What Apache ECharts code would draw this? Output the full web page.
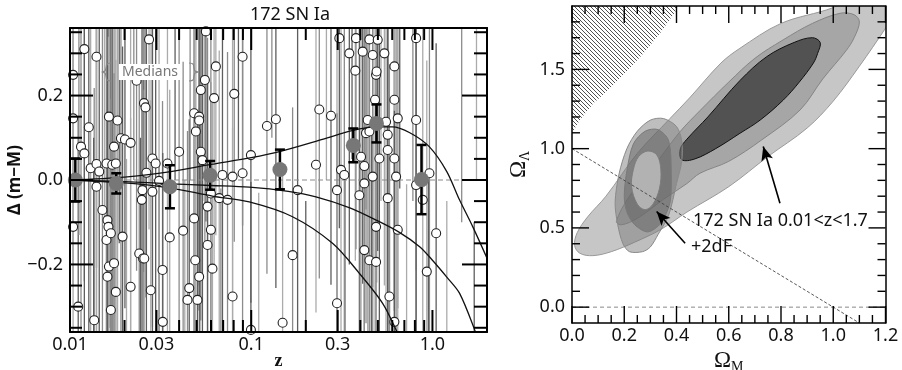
<!DOCTYPE html>
<html><head><meta charset="utf-8">
<script src="https://cdn.jsdelivr.net/npm/echarts@6/dist/echarts.min.js"></script>
<style>html,body{margin:0;padding:0;background:#fff}#c{width:902px;height:370px}</style>
</head><body><div id="c"></div>
<script>
// ---------------- DATA (left panel: 172 SN Ia residuals) ----------------
const snZ = [0.0120,0.0140,0.0273,0.0104,0.0127,0.0104,0.0115,0.0120,0.0130,0.0140,0.0164,0.0183,0.0159,0.0171,0.0179,0.0191,0.0201,0.0216,0.0175,0.0256,0.0261,0.0285,0.0297,0.0345,0.0400,0.0145,0.0140,0.0151,0.0161,0.0163,0.0159,0.0168,0.0164,0.0175,0.0161,0.0179,0.0168,0.0195,0.0216,0.0136,0.0111,0.0104,0.0241,0.0253,0.0257,0.0249,0.0285,0.0279,0.0324,0.0325,0.0355,0.0421,0.0484,0.0491,0.0445,0.0505,0.0516,0.0574,0.0574,0.0599,0.0599,0.0562,0.0638,0.0555,0.0527,0.0624,0.0806,0.0896,0.0484,0.0516,0.0516,0.0495,0.0527,0.0538,0.0666,0.0740,0.0694,0.0789,0.0896,0.0996,0.0789,0.1221,0.1368,0.1490,0.1692,0.1803,0.2277,0.2375,0.2755,0.2974,0.2974,0.3063,0.3129,0.3264,0.3478,0.3754,0.3786,0.4122,0.4488,0.4682,0.4989,0.5430,0.4885,0.4917,0.4823,0.4300,0.4488,0.4036,0.4209,0.3952,0.4209,0.4488,0.4885,0.4885,0.4682,0.5094,0.5546,0.5664,0.6166,0.6166,0.6435,0.5664,0.6166,0.6300,0.5664,0.6435,0.5786,0.6166,0.8125,0.8125,0.8125,0.8843,0.9625,1.048,0.9306,0.0233,0.0264,0.0310,0.0251,0.0455,0.0611,0.4209,0.0996,0.4392,
 0.0112,0.0135,0.0155,0.0172,0.0187,0.0205,0.0225,0.0245,0.0280,0.0310,0.0380,0.0430,0.0460,0.0520,0.0550,0.0680,0.0850,0.110,0.130,0.200,0.260,0.330,0.360,0.400,0.430,0.460,0.520,0.580,0.660,0.720,0.780,0.950,1.20,1.45,1.70,1.75];
const snDm = [0.310,0.292,0.333,0.249,0.125,0.146,0.079,0.063,0.028,0.038,0.150,0.141,0.039,0.036,0.039,0.099,0.096,0.088,0.079,0.182,0.172,0.051,0.039,0.039,0.067,0.020,-0.016,-0.071,-0.095,-0.111,-0.142,-0.126,-0.205,-0.197,-0.229,-0.265,-0.308,-0.134,-0.253,-0.332,-0.300,-0.111,-0.174,-0.186,-0.186,-0.047,-0.028,-0.261,-0.213,-0.336,-0.136,-0.120,-0.091,-0.190,-0.284,-0.284,-0.229,-0.063,-0.154,-0.118,-0.032,0.352,0.269,0.237,0.213,0.194,0.204,0.292,0.158,0.150,0.141,0.115,0.067,0.047,-0.043,-0.047,0.012,0.008,0.016,0.059,-0.276,0.128,0.144,-0.338,-0.178,-0.024,0.036,0.167,0.152,-0.024,-0.292,0.336,0.024,0.012,0.300,0.259,0.336,0.304,0.333,0.296,0.332,0.300,0.249,0.257,0.190,0.111,0.115,0.055,-0.008,-0.036,-0.166,-0.190,-0.194,-0.111,0.008,0.051,0.138,0.107,0.190,0.269,0.146,0.071,0.051,0.008,-0.043,-0.118,-0.276,-0.336,0.336,0.142,-0.012,-0.047,0.016,-0.126,-0.217,0.235,0.017,-0.002,-0.024,-0.256,-0.210,0.033,-0.355,0.142,
 0.42,-0.45,0.50,-0.42,0.40,-0.50,0.45,-0.40,0.42,-0.45,0.40,-0.50,0.45,-0.40,0.50,-0.42,0.45,-0.48,0.50,-0.45,0.45,-0.50,0.50,-0.45,0.48,-0.42,0.45,-0.50,0.48,-0.46,0.50,-0.50,-0.50,0.45,-0.55,0.50];
const snErr = [0.55,0.50,0.45,0.50,0.55,0.40,0.45,0.50,0.40,0.45,0.50,0.55,0.50,0.55,0.45,0.50,0.40,0.45,0.50,0.40,0.45,0.40,0.45,0.40,0.40,0.50,0.50,0.55,0.50,0.45,0.50,0.55,0.50,0.45,0.50,0.55,0.50,0.45,0.40,0.55,0.45,0.45,0.40,0.45,0.40,0.45,0.40,0.45,0.40,0.40,0.35,0.40,0.45,0.40,0.40,0.45,0.40,0.40,0.40,0.35,0.40,0.45,0.40,0.40,0.45,0.40,0.35,0.40,0.45,0.40,0.45,0.40,0.40,0.45,0.35,0.35,0.40,0.35,0.40,0.35,0.40,0.35,0.40,0.35,0.35,0.40,0.35,0.40,0.40,0.45,0.45,0.45,0.40,0.45,0.50,0.45,0.50,0.55,0.50,0.55,0.50,0.55,0.45,0.50,0.55,0.45,0.50,0.45,0.50,0.45,0.50,0.55,0.45,0.50,0.45,0.50,0.55,0.45,0.50,0.55,0.45,0.50,0.55,0.50,0.45,0.50,0.55,0.50,0.55,0.50,0.55,0.50,0.55,0.45,0.50,0.45,0.40,0.40,0.45,0.40,0.40,0.50,0.35,0.50,
 0.55,0.55,0.60,0.50,0.55,0.55,0.45,0.50,0.45,0.50,0.40,0.50,0.45,0.55,0.55,0.40,0.40,0.45,0.40,0.40,0.45,0.50,0.45,0.50,0.55,0.55,0.50,0.55,0.50,0.45,0.55,0.50,0.45,0.55,0.45,0.50];

const medZ   = [0.0107, 0.018, 0.0356, 0.0593, 0.144, 0.366, 0.491, 0.87];
const medDm  = [0.000, -0.008, -0.016, 0.011, 0.025, 0.082, 0.134, 0.001];
const medErr = [0.051, 0.024, 0.051, 0.034, 0.047, 0.040, 0.045, 0.082];

const curveUpper  = [[0.01,0.0],[0.02,0.007],[0.036,0.02],[0.06,0.037],[0.1,0.053],[0.145,0.068],[0.25,0.097],[0.36,0.117],[0.48,0.126],[0.6,0.126],[0.75,0.112],[0.96,0.079],[1.2,0.02],[1.41,-0.047],[1.67,-0.111],[2.0,-0.185]];
const curveMiddle = [[0.01,0.0],[0.02,-0.004],[0.036,-0.009],[0.06,-0.013],[0.0975,-0.017],[0.16,-0.027],[0.2276,-0.04],[0.35,-0.066],[0.489,-0.095],[0.657,-0.124],[0.85,-0.158],[1.0,-0.19],[1.2,-0.23],[1.41,-0.268],[1.71,-0.355],[1.85,-0.40]];
const curveLower  = [[0.01,0.0],[0.02,-0.007],[0.036,-0.019],[0.061,-0.038],[0.0975,-0.052],[0.169,-0.087],[0.281,-0.15],[0.395,-0.221],[0.531,-0.292],[0.63,-0.355],[0.68,-0.39]];

const zTickValues = [0.01, 0.03, 0.1, 0.3, 1.0];
const zTickLabels = ['0.01', '0.03', '0.1', '0.3', '1.0'];
const zMinorTicks = [0.02,0.04,0.05,0.06,0.07,0.08,0.09,0.2,0.4,0.5,0.6,0.7,0.8,0.9];
const dmTickValues = [-0.2, 0.0, 0.2];
const dmTickLabels = ['\u22120.2', '0.0', '0.2'];
const dmMinorTicks = [-0.35,-0.3,-0.25,-0.15,-0.1,-0.05,0.05,0.1,0.15,0.25,0.3,0.35];

// ---------------- DATA (right panel: Omega_M / Omega_Lambda contours) ----------------
const noBigBang = [[0,1.10],[0,1.95],[0.40,1.95],[0.40,1.875],[0.337,1.728],[0.273,1.60],[0.209,1.486],[0.145,1.38],[0.082,1.286],[0.03,1.18],[0.011,1.128]];
const snContour3 = [[0.01,0.39],[0.03,0.34],[0.08,0.325],[0.15,0.35],[0.24,0.41],[0.34,0.49],[0.44,0.60],[0.6,0.76],[0.75,0.95],[0.9,1.13],[1.0,1.30],[1.1,1.52],[1.2,1.76],[1.26,1.92],[1.22,2.0],[1.1,1.98],[1.0,1.89],[0.8,1.79],[0.64,1.63],[0.57,1.54],[0.45,1.32],[0.375,1.19],[0.25,0.97],[0.13,0.70],[0.06,0.57],[0.02,0.47]];
const snContour2 = [[0.17,0.54],[0.22,0.70],[0.30,0.86],[0.41,1.10],[0.49,1.24],[0.6,1.42],[0.7,1.57],[0.808,1.686],[0.92,1.79],[1.026,1.854],[1.08,1.845],[1.1,1.80],[1.08,1.70],[1.05,1.62],[0.96,1.44],[0.873,1.244],[0.726,1.055],[0.6,0.92],[0.49,0.845],[0.44,0.78],[0.35,0.68],[0.25,0.56],[0.19,0.52]];
const snContour1 = [[0.42,0.93],[0.415,1.0],[0.44,1.06],[0.52,1.2],[0.643,1.43],[0.745,1.58],[0.85,1.67],[0.92,1.70],[0.95,1.67],[0.94,1.6],[0.924,1.54],[0.87,1.42],[0.809,1.307],[0.72,1.18],[0.643,1.097],[0.55,1.0],[0.47,0.935]];
const dfContour3 = [[0.165,0.66],[0.18,0.84],[0.21,1.0],[0.25,1.11],[0.30,1.18],[0.35,1.19],[0.40,1.14],[0.42,1.05],[0.42,0.92],[0.40,0.78],[0.37,0.58],[0.33,0.46],[0.30,0.38],[0.27,0.35],[0.22,0.35],[0.195,0.40],[0.175,0.52]];
const dfContour2 = [[0.20,0.70],[0.21,0.86],[0.235,1.03],[0.28,1.11],[0.33,1.12],[0.37,1.05],[0.38,0.85],[0.375,0.66],[0.34,0.53],[0.29,0.475],[0.24,0.52],[0.21,0.60]];
const dfContour1 = [[0.228,0.76],[0.235,0.87],[0.255,0.95],[0.29,0.985],[0.325,0.96],[0.34,0.87],[0.335,0.75],[0.31,0.65],[0.28,0.615],[0.25,0.65]];
const flatLine = [[0.0,1.0],[1.1,-0.1]];
const zeroLambda = [[0.0,0.0],[1.2,0.0]];
const arrowSN = [[0.796,0.656],[0.732,1.013]];
const arrow2dF = [[0.433,0.403],[0.324,0.603]];
const omTickValues = [0.0,0.2,0.4,0.6,0.8,1.0,1.2];
const omMinorTicks = [0.05,0.1,0.15,0.25,0.3,0.35,0.45,0.5,0.55,0.65,0.7,0.75,0.85,0.9,0.95,1.05,1.1,1.15];
const olTickValues = [0.0, 0.5, 1.0, 1.5];
const olMinorTicks = [0.1,0.2,0.3,0.4,0.6,0.7,0.8,0.9,1.1,1.2,1.3,1.4,1.6,1.7,1.8];

// ---------------- CHART ----------------
const SANS = '"Noto Sans", "DejaVu Sans", sans-serif';
const SERIF = '"Liberation Serif", "DejaVu Serif", serif';
const LMIN = Math.log10(0.01), LMAX = Math.log10(2.0);
const zMajorLog = zTickValues.map(Math.log10);

const hatch = document.createElement('canvas');
hatch.width = 4; hatch.height = 4;
(function(){
  const c = hatch.getContext('2d');
  c.fillStyle = '#ffffff'; c.fillRect(0,0,4,4);
  c.strokeStyle = '#505050'; c.lineWidth = 1;
  c.beginPath();
  c.moveTo(-1,-1); c.lineTo(5,5);
  c.moveTo(-1,3); c.lineTo(1,5);
  c.moveTo(3,-1); c.lineTo(5,1);
  c.stroke();
})();

const polygons = [
  {pts: noBigBang, fill: {image: hatch, repeat: 'repeat'}, stroke: null, smooth: 0},
  {pts: snContour3, fill: '#c6c6c6', stroke: '#9a9a9a', smooth: 0.35},
  {pts: snContour2, fill: '#a6a6a6', stroke: '#858585', smooth: 0.35},
  {pts: snContour1, fill: '#525252', stroke: '#111111', smooth: 0.35},
  {pts: dfContour3, fill: 'rgba(120,120,120,0.48)', stroke: '#8a8a8a', smooth: 0.3},
  {pts: dfContour2, fill: 'rgba(95,95,95,0.5)', stroke: '#7a7a7a', smooth: 0.3},
  {pts: dfContour1, fill: '#b2b2b2', stroke: '#7c7c7c', smooth: 0.35}
];

// tick specs (built from the tick arrays): lenA = bottom/left, lenB = top/right
const leftTicks = [].concat(
  zTickValues.map(v => ({dir: 'x', v, lenA: 22, lenB: 22})),
  zMinorTicks.map(v => ({dir: 'x', v, lenA: 12, lenB: 12})),
  dmTickValues.map(v => ({dir: 'y', v, lenA: 23, lenB: 25})),
  dmMinorTicks.map(v => ({dir: 'y', v, lenA: 12, lenB: 13}))
);
const rightTicks = [].concat(
  omTickValues.map(v => ({dir: 'x', v, lenA: 17, lenB: 17})),
  omMinorTicks.map(v => ({dir: 'x', v, lenA: 8, lenB: 8})),
  olTickValues.map(v => ({dir: 'y', v, lenA: 17, lenB: 17})),
  olMinorTicks.map(v => ({dir: 'y', v, lenA: 8, lenB: 8}))
);
function tickSeries(specs, xi, yi, xRef, yRef, width) {
  return {type: 'custom', xAxisIndex: xi, yAxisIndex: yi, z: 9, silent: true,
    data: specs.map(t => t.dir === 'x' ? [t.v, yRef] : [xRef, t.v]),
    encode: {x: 0, y: 1},
    renderItem: (params, api) => {
      const t = specs[params.dataIndex], cs = params.coordSys;
      const p = api.coord([api.value(0), api.value(1)]);
      const st = {stroke: '#000', lineWidth: width};
      if (t.dir === 'x') {
        const b = cs.y + cs.height;
        return {type: 'group', children: [
          {type: 'line', shape: {x1: p[0], y1: b, x2: p[0], y2: b - t.lenA}, style: st},
          {type: 'line', shape: {x1: p[0], y1: cs.y, x2: p[0], y2: cs.y + t.lenB}, style: st}]};
      }
      const r = cs.x + cs.width;
      return {type: 'group', children: [
        {type: 'line', shape: {x1: cs.x, y1: p[1], x2: cs.x + t.lenA, y2: p[1]}, style: st},
        {type: 'line', shape: {x1: r, y1: p[1], x2: r - t.lenB, y2: p[1]}, style: st}]};
    }};
}

function frameAxis(base) {
  return Object.assign({type: 'value', z: 10, splitLine: {show: false},
    axisTick: {show: false}, axisLabel: {show: false},
    axisLine: {show: true, onZero: false, lineStyle: {color: '#000', width: 2}}}, base);
}
const rich = {o: {fontFamily: SERIF, fontSize: 23, color: '#111', lineHeight: 26},
              s: {fontFamily: SERIF, fontSize: 14, color: '#111', verticalAlign: 'bottom', lineHeight: 14}};
const lineW = w => ({show: true, onZero: false, lineStyle: {color: '#000', width: w}});

// axis indices: x -> 0 log(left data), 1 left bottom, 2 left top, 3 right bottom, 4 right top
//               y -> 0 left left, 1 left right, 2 right left, 3 right right
const chart = echarts.init(document.getElementById('c'), null, {renderer: 'canvas'});
const option = {
  animation: false,
  backgroundColor: '#fff',
  grid: [
    {left: 70, top: 28, width: 417, height: 304, outerBoundsMode: 'none', containLabel: false},
    {left: 572, top: 6, width: 313.5, height: 317, outerBoundsMode: 'none', containLabel: false}
  ],
  xAxis: [
    {type: 'log', logBase: 10, gridIndex: 0, min: 0.01, max: 2.0, show: false},
    frameAxis({gridIndex: 0, position: 'bottom', min: LMIN, max: LMAX,
      axisLabel: {show: true, customValues: zMajorLog, margin: 4, fontSize: 18, color: '#111', fontFamily: SANS,
        formatter: v => { const i = zMajorLog.findIndex(t => Math.abs(t - v) < 1e-6); return i >= 0 ? zTickLabels[i] : ''; }},
      name: 'z', nameLocation: 'middle', nameGap: 20, nameMoveOverlap: false,
      nameTextStyle: {fontSize: 18, fontWeight: 'bold', fontFamily: SERIF, color: '#111'}}),
    frameAxis({gridIndex: 0, position: 'top', min: LMIN, max: LMAX}),
    frameAxis({gridIndex: 1, position: 'bottom', min: 0, max: 1.2, interval: 0.2, axisLine: lineW(1.5),
      axisLabel: {show: true, margin: 4, fontSize: 18, color: '#111', fontFamily: SANS, formatter: v => v.toFixed(1)},
      name: '{o|\u03A9}{s|M}', nameLocation: 'middle', nameGap: 20, nameTextStyle: {rich: rich}}),
    frameAxis({gridIndex: 1, position: 'top', min: 0, max: 1.2, interval: 0.2, axisLine: lineW(1.5)})
  ],
  yAxis: [
    frameAxis({gridIndex: 0, position: 'left', min: -0.36, max: 0.36,
      axisLabel: {show: true, customValues: dmTickValues, margin: 7, fontSize: 18, color: '#111', fontFamily: SANS,
        formatter: v => { const i = dmTickValues.findIndex(t => Math.abs(t - v) < 1e-6); return i >= 0 ? dmTickLabels[i] : ''; }},
      name: '\u0394 (m\u2212M)', nameLocation: 'middle', nameGap: 40, nameRotate: 90,
      nameTextStyle: {fontSize: 17, fontWeight: 'bold', fontFamily: SANS, color: '#111'}}),
    frameAxis({gridIndex: 0, position: 'right', min: -0.36, max: 0.36}),
    frameAxis({gridIndex: 1, position: 'left', min: -0.1, max: 1.9, axisLine: lineW(1.5),
      axisLabel: {show: true, customValues: olTickValues, margin: 7, fontSize: 18, color: '#111', fontFamily: SANS, formatter: v => v.toFixed(1)},
      name: '{o|\u03A9}{s|\u039B}', nameLocation: 'middle', nameGap: 40, nameRotate: 90, nameTextStyle: {rich: rich}}),
    frameAxis({gridIndex: 1, position: 'right', min: -0.1, max: 1.9, axisLine: lineW(1.5)})
  ],
  graphic: [
    {type: 'text', x: 290, y: 15, style: {text: '172 SN Ia', font: '18px ' + SANS, fill: '#111', textAlign: 'center', textVerticalAlign: 'middle'}},
    {type: 'text', x: 150, y: 72, z: 20, style: {text: 'Medians', font: '14px ' + SANS, fill: '#777', textAlign: 'center', textVerticalAlign: 'middle', backgroundColor: '#fff', padding: [1, 3]}},
    {type: 'polyline', z: 20, shape: {points: [[111,63],[107,64],[106,68],[105,71],[102,72],[105,73],[106,76],[107,80],[111,81]], smooth: 0.3}, style: {fill: null, stroke: '#888', lineWidth: 1.2}},
    {type: 'polyline', z: 20, shape: {points: [[189,63],[193,64],[194,68],[195,71],[198,72],[195,73],[194,76],[193,80],[189,81]], smooth: 0.3}, style: {fill: null, stroke: '#888', lineWidth: 1.2}},
    {type: 'text', x: 693, y: 221, z: 20, style: {text: '172 SN Ia 0.01<z<1.7', font: '18px ' + SANS, fill: '#111', textAlign: 'left', textVerticalAlign: 'middle'}},
    {type: 'text', x: 691, y: 247, z: 20, style: {text: '+2dF', font: '18px ' + SANS, fill: '#111', textAlign: 'left', textVerticalAlign: 'middle'}}
  ],
  series: [
    // SN error bars
    {type: 'custom', xAxisIndex: 0, yAxisIndex: 0, clip: true, z: 2, silent: true,
      data: snZ.map((z, i) => [z, snDm[i], snErr[i]]),
      encode: {x: 0, y: 1},
      renderItem: (params, api) => {
        const z = api.value(0), y = api.value(1), e = api.value(2);
        const p1 = api.coord([z, y + e]), p2 = api.coord([z, y - e]);
        const cs = params.coordSys;
        const y1 = Math.max(cs.y, Math.min(cs.y + cs.height, p1[1]));
        const y2 = Math.max(cs.y, Math.min(cs.y + cs.height, p2[1]));
        const tones = ['#8c8c8c', '#5e5e5e', '#ababab'];
        return {type: 'line', shape: {x1: p1[0], y1: y1, x2: p1[0], y2: y2},
          style: {stroke: tones[params.dataIndex % 3], lineWidth: 1.3}};
      }},
    {type: 'line', xAxisIndex: 0, yAxisIndex: 0, z: 2, symbol: 'none', silent: true,
      data: [[0.01, 0], [2.0, 0]], lineStyle: {color: '#8a8a8a', width: 1, type: [5, 3]}},
    {type: 'scatter', xAxisIndex: 0, yAxisIndex: 0, z: 3, symbol: 'circle', symbolSize: 9, clip: true,
      data: snZ.map((z, i) => [z, snDm[i]]),
      itemStyle: {color: '#fff', borderColor: '#222', borderWidth: 1.1, opacity: 1}},
    {type: 'line', xAxisIndex: 0, yAxisIndex: 0, z: 4, symbol: 'none', smooth: 0.3, clip: true, data: curveUpper, lineStyle: {color: '#111', width: 1.3}},
    {type: 'line', xAxisIndex: 0, yAxisIndex: 0, z: 4, symbol: 'none', smooth: 0.3, clip: true, data: curveMiddle, lineStyle: {color: '#111', width: 1.3}},
    {type: 'line', xAxisIndex: 0, yAxisIndex: 0, z: 4, symbol: 'none', smooth: 0.3, clip: true, data: curveLower, lineStyle: {color: '#111', width: 1.3}},
    // medians
    {type: 'custom', xAxisIndex: 0, yAxisIndex: 0, z: 5,
      data: medZ.map((z, i) => [z, medDm[i], medErr[i]]),
      encode: {x: 0, y: 1},
      renderItem: (params, api) => {
        const z = api.value(0), y = api.value(1), e = api.value(2);
        const t = api.coord([z, y + e]), b = api.coord([z, y - e]);
        const hw = 5, st = {stroke: '#000', lineWidth: 2.5};
        return {type: 'group', children: [
          {type: 'line', shape: {x1: t[0], y1: t[1], x2: b[0], y2: b[1]}, style: st},
          {type: 'line', shape: {x1: t[0] - hw, y1: t[1], x2: t[0] + hw, y2: t[1]}, style: st},
          {type: 'line', shape: {x1: b[0] - hw, y1: b[1], x2: b[0] + hw, y2: b[1]}, style: st}
        ]};
      }},
    {type: 'scatter', xAxisIndex: 0, yAxisIndex: 0, z: 6, symbol: 'circle', symbolSize: 15,
      data: medZ.map((z, i) => [z, medDm[i]]), itemStyle: {color: '#777', opacity: 1}},
    tickSeries(leftTicks, 0, 0, 0.1, 0, 2),
    // right panel polygons
    {type: 'custom', xAxisIndex: 3, yAxisIndex: 2, clip: true, z: 2, silent: true,
      data: polygons.map(() => [0.5, 0.5]),
      encode: {x: 0, y: 1},
      renderItem: (params, api) => {
        const p = polygons[params.dataIndex];
        const pts = p.pts.map(v => api.coord(v));
        return {type: 'polygon', shape: {points: pts, smooth: p.smooth},
          style: {fill: p.fill, stroke: p.stroke || 'none', lineWidth: p.stroke ? 1 : 0}};
      }},
    {type: 'line', xAxisIndex: 3, yAxisIndex: 2, z: 4, symbol: 'none', silent: true, clip: true,
      data: zeroLambda, lineStyle: {color: '#8a8a8a', width: 1, type: [4, 3]}},
    {type: 'line', xAxisIndex: 3, yAxisIndex: 2, z: 4, symbol: 'none', silent: true, clip: true,
      data: flatLine, lineStyle: {color: '#444', width: 0.9, type: [3, 2]},
      markLine: {silent: true, symbol: ['none', 'arrow'], symbolSize: [9, 14], label: {show: false},
        lineStyle: {color: '#000', width: 1.6, type: 'solid'},
        data: [
          [{coord: arrowSN[0]}, {coord: arrowSN[1]}],
          [{coord: arrow2dF[0]}, {coord: arrow2dF[1]}]
        ]}},
    tickSeries(rightTicks, 3, 2, 0.5, 0.5, 1.4)
  ]
};
chart.setOption(option);
</script></body></html>
